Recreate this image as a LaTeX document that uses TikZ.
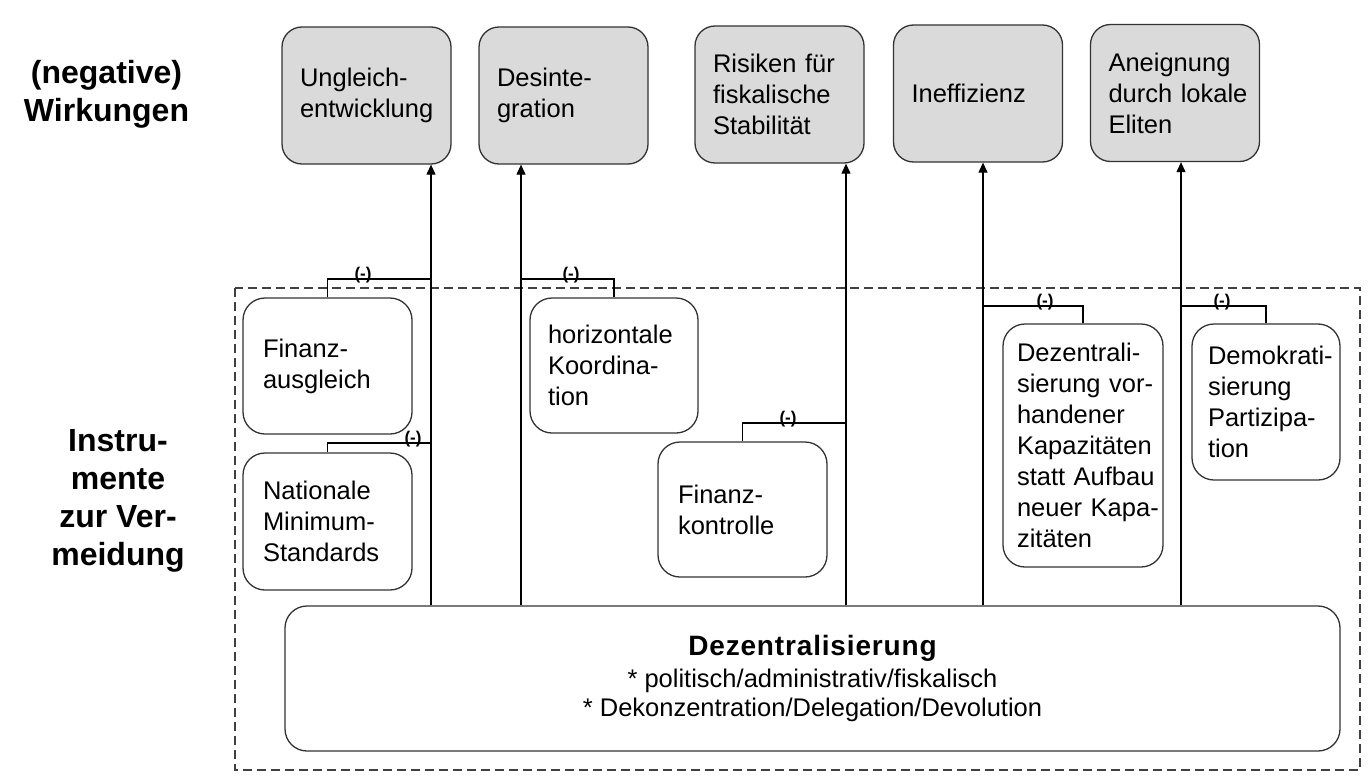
\documentclass[tikz,border=0pt]{standalone}
\usepackage{fontspec}
\setmainfont{Liberation Sans}
\usetikzlibrary{arrows.meta}
\definecolor{effgray}{HTML}{DADADA}
\definecolor{edge}{HTML}{333333}
\newcommand{\Lx}[1]{\mbox{#1}}
\tikzset{
  effbox/.style={draw=edge, line width=1.3pt, fill=effgray, rounded corners=20pt,
    minimum width=169pt, minimum height=137pt, text width=133pt, inner xsep=18pt,
    align=left, font=\fontsize{25.5}{31}\selectfont},
  instbox/.style={draw=edge, line width=1.3pt, fill=white, rounded corners=22pt,
    align=left, font=\fontsize{25.5}{31}\selectfont},
  lbl/.style={align=center, font=\bfseries\fontsize{32}{38}\selectfont},
  neg/.style={font=\bfseries\fontsize{17}{17}\selectfont, inner sep=0pt},
  conn/.style={line width=1.1pt, draw=black},
  arr/.style={line width=1.1pt, draw=black, -{Triangle[width=9pt,length=10pt]}},
  dashbox/.style={draw=black!75, line width=1.2pt, dash pattern=on 9pt off 5pt}
}
\begin{document}
\begin{tikzpicture}[x=1pt,y=-1pt]
\useasboundingbox (0,0) rectangle (1372,776);
\fill[white] (0,0) rectangle (1372,776);
% dashed frame of instruments
\draw[dashbox] (235,288) rectangle (1360,770);
% left labels
\node[lbl] (lw) at (106.5,94) {(negative)\\Wirkungen};
\node[lbl] (li) at (118,501) {Instru-\\mente\\zur Ver-\\meidung};
% effect boxes
\node[effbox] (t1) at (366.5,95.5) {Ungleich-\\entwicklung};
\node[effbox] (t2) at (563.5,95.5) {Desinte-\\gration};
\node[effbox] (t3) at (779.5,94.5) {\Lx{Risiken für}\\fiskalische\\Stabilität};
\node[effbox] (t4) at (978,93.5) {Ineffizienz};
\node[effbox] (t5) at (1175,93) {Aneignung\\\Lx{durch lokale}\\Eliten};
% decentralisation box
\node[draw=edge, line width=1.3pt, fill=white, rounded corners=22pt,
  minimum width=1055pt, minimum height=145pt, align=center,
  font=\fontsize{25.5}{29}\selectfont] (dz) at (812.5,678.5)
  {{\bfseries\fontsize{28}{32}\selectfont\addfontfeature{LetterSpace=3} Dezentralisierung}\\[3pt]
   * politisch/administrativ/fiskalisch\\
   * Dekonzentration/Delegation/Devolution};
% arrow columns
\coordinate (a1) at (431,0);
\coordinate (a2) at (521,0);
\coordinate (a3) at (846,0);
\coordinate (a4) at (983,0);
\coordinate (a5) at (1181,0);
\draw[arr] (a1 |- dz.north) -- (a1 |- t1.south);
\draw[arr] (a2 |- dz.north) -- (a2 |- t2.south);
\draw[arr] (a3 |- dz.north) -- (a3 |- t3.south);
\draw[arr] (a4 |- dz.north) -- (a4 |- t4.south);
\draw[arr] (a5 |- dz.north) -- (a5 |- t5.south);
% instrument boxes
\node[instbox, minimum width=169pt, minimum height=136pt, text width=129pt, inner xsep=20pt]
  (fa) at (327.5,366) {Finanz-\\ausgleich};
\node[instbox, minimum width=169pt, minimum height=137pt, text width=129pt, inner xsep=20pt]
  (na) at (327.5,521.5) {Nationale\\Minimum-\\Standards};
\node[instbox, minimum width=168pt, minimum height=135pt, text width=132pt, inner xsep=18pt]
  (hk) at (614,365.5) {horizontale\\Koordina-\\tion};
\node[instbox, minimum width=169pt, minimum height=135pt, text width=129pt, inner xsep=20pt]
  (fk) at (742.5,509.5) {Finanz-\\kontrolle};
\node[instbox, minimum width=160pt, minimum height=243pt, text width=132pt, inner xsep=14pt]
  (dv) at (1083,445.5) {Dezentrali-\\\Lx{sierung vor-}\\handener\\Kapazitäten\\\Lx{statt Aufbau}\\\Lx{neuer Kapa-}\\zitäten};
\node[instbox, minimum width=148pt, minimum height=156pt, text width=116pt, inner xsep=16pt]
  (dp) at (1266,402) {\Lx{Demokrati-}\\sierung\\\Lx{Partizipa-}\\tion};
% junctions on arrow columns
\coordinate (j1) at (431,279);
\coordinate (j2) at (431,443);
\coordinate (j3) at (521,279);
\coordinate (j4) at (846,423);
\coordinate (j5) at (983,306);
\coordinate (j6) at (1181,306);
\draw[conn] (fa.north) |- (j1);
\draw[conn] (na.north) |- (j2);
\draw[conn] (hk.north) |- (j3);
\draw[conn] (fk.north) |- (j4);
\draw[conn] (dv.north) |- (j5);
\draw[conn] (dp.north) |- (j6);
% (-) labels
\node[neg] (n1) at (363,275) {(-)};
\node[neg] (n2) at (413,439) {(-)};
\node[neg] (n3) at (571,275) {(-)};
\node[neg] (n4) at (788,419) {(-)};
\node[neg] (n5) at (1045,302) {(-)};
\node[neg] (n6) at (1222,302) {(-)};
\end{tikzpicture}
\end{document}
